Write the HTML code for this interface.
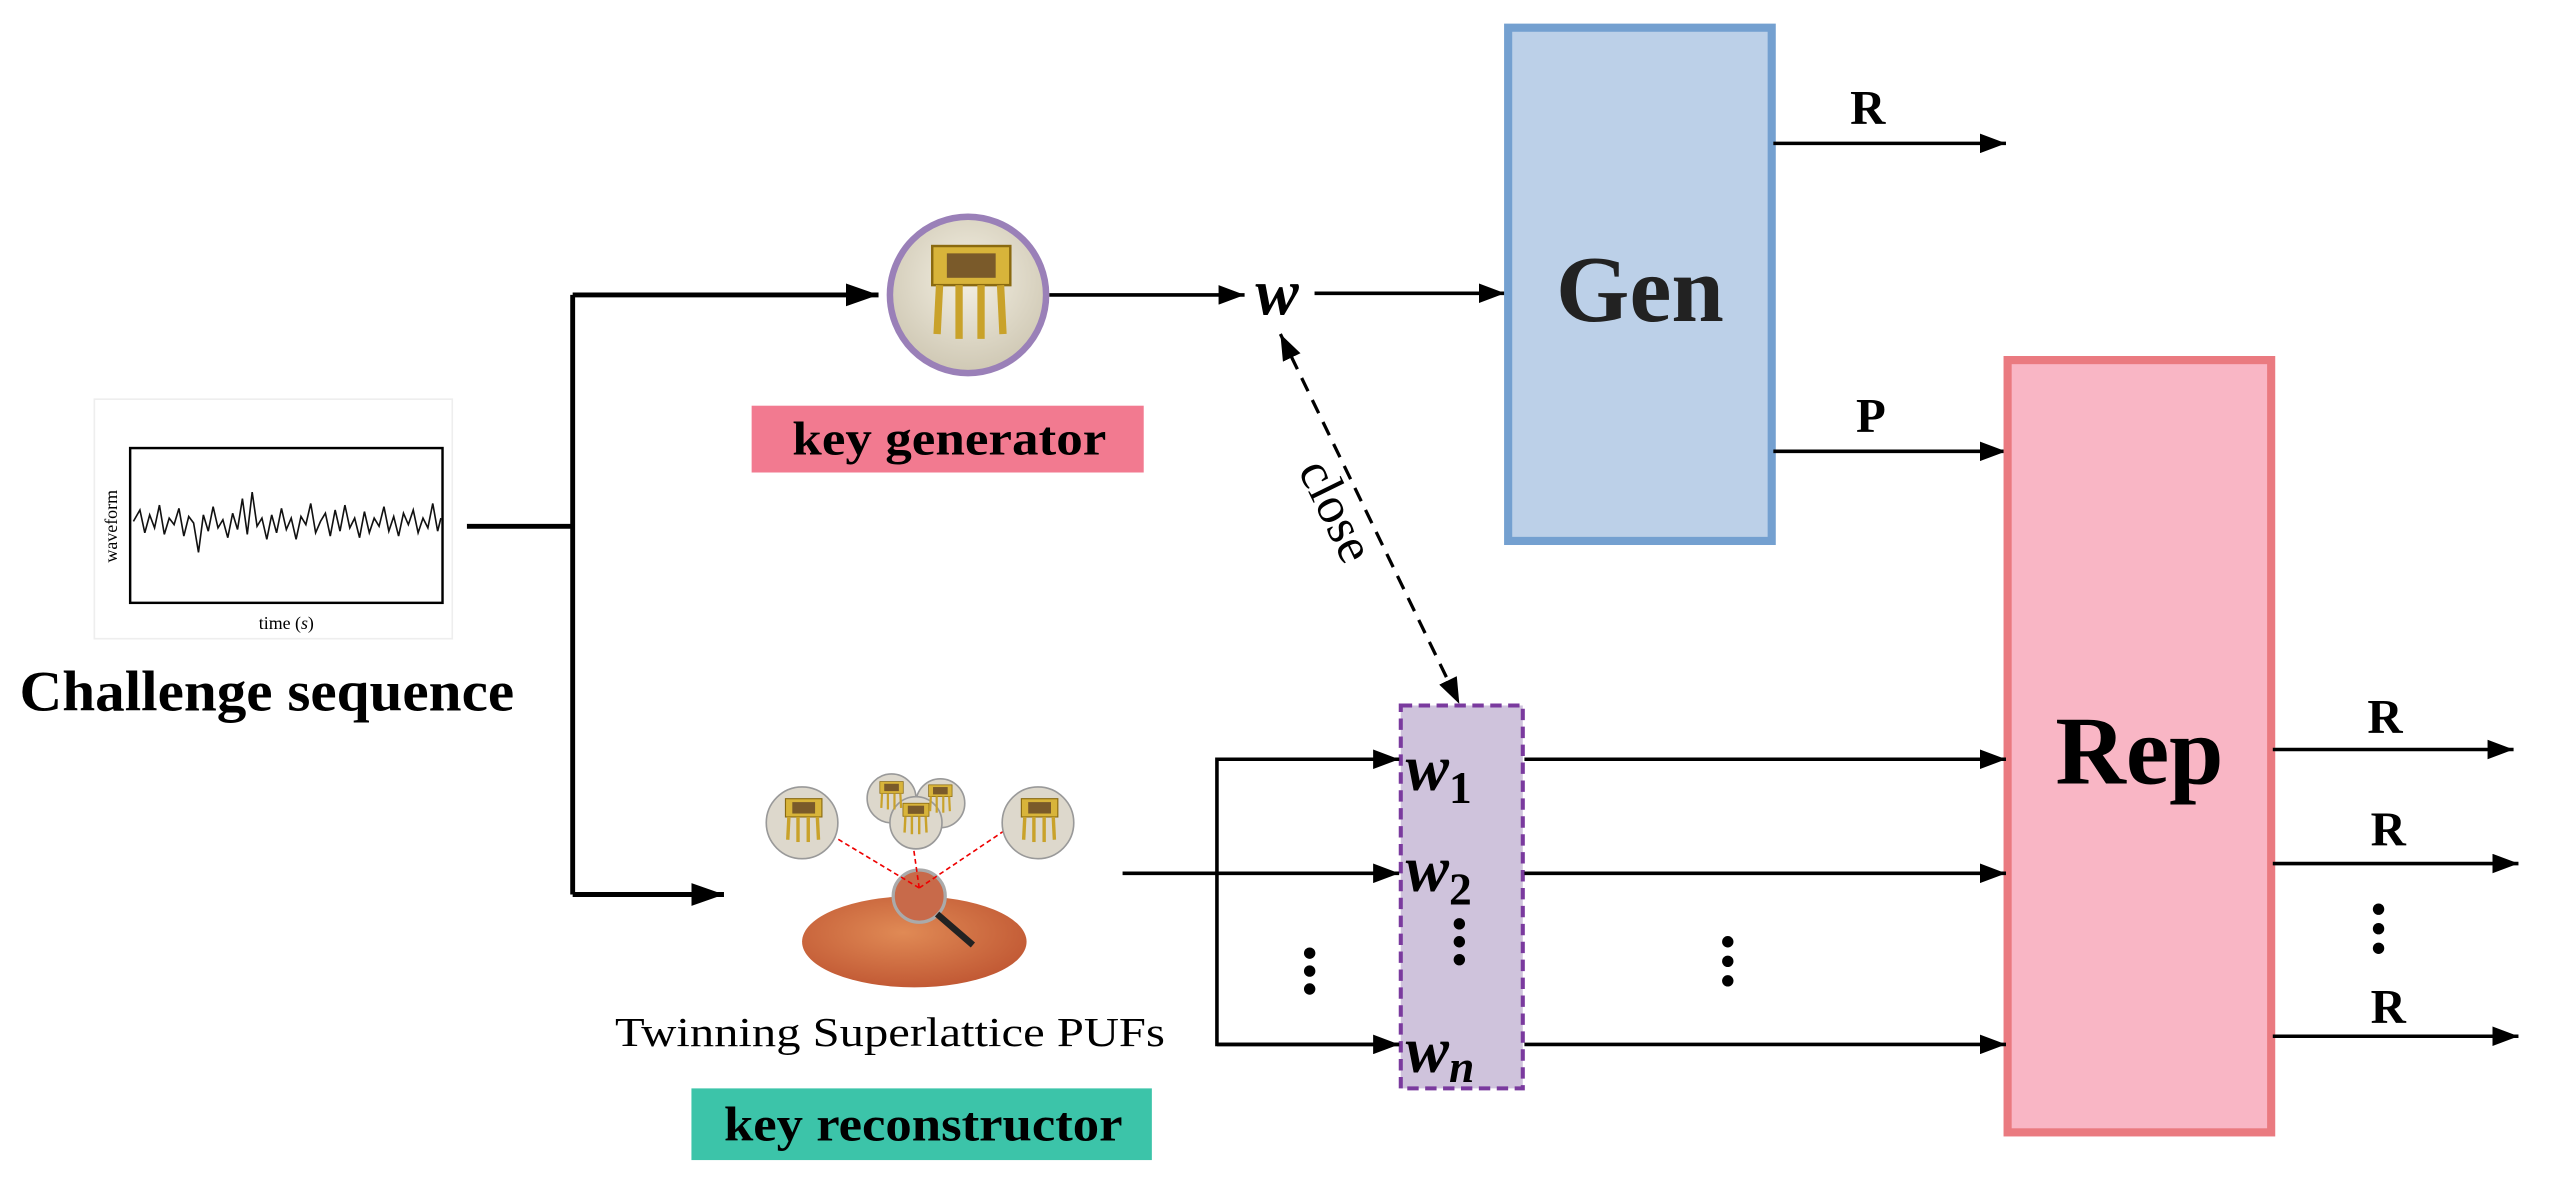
<!DOCTYPE html>
<html><head><meta charset="utf-8"><style>
html,body{margin:0;padding:0;background:#fff;}
svg{display:block;}
text{font-family:"Liberation Serif",serif;}
</style></head><body>
<svg width="2551" height="1178" viewBox="0 0 1568 723" preserveAspectRatio="none" xmlns="http://www.w3.org/2000/svg">
<defs>
<marker id="a2" viewBox="0 0 20 14" markerWidth="20" markerHeight="14" refX="20" refY="7" orient="auto" markerUnits="userSpaceOnUse"><path d="M0,0 L20,7 L0,14 z" fill="#000"/></marker>
<marker id="a3" viewBox="0 0 16 12" markerWidth="16" markerHeight="12" refX="16" refY="6" orient="auto-start-reverse" markerUnits="userSpaceOnUse"><path d="M0,0 L16,6 L0,12 z" fill="#000"/></marker>
<radialGradient id="cg" cx="50%" cy="40%" r="60%"><stop offset="0" stop-color="#f3efe2"/><stop offset="1" stop-color="#cfc8b4"/></radialGradient>
<radialGradient id="wafer" cx="45%" cy="40%" r="60%"><stop offset="0" stop-color="#e08a55"/><stop offset="1" stop-color="#c25a35"/></radialGradient>
<g id="chip">
<rect x="-16" y="-14" width="32" height="16" fill="#d8b43a" stroke="#8a6a10" stroke-width="1"/>
<rect x="-10" y="-11" width="20" height="10" fill="#7a5a2a"/>
<g stroke="#c9a22a" stroke-width="3"><line x1="-13" y1="2" x2="-14" y2="22"/><line x1="-5" y1="2" x2="-5" y2="24"/><line x1="4" y1="2" x2="4" y2="24"/><line x1="12" y1="2" x2="13" y2="22"/></g>
</g>
</defs>

<rect x="58" y="245" width="220" height="147" fill="#fff" stroke="#eee"/>
<rect x="80" y="275" width="192" height="95" fill="#fff" stroke="#000" stroke-width="1.5"/>
<polyline fill="none" stroke="#111" stroke-width="1" points="82,320 86,313 89,327 92,316 95,324 98,310 101,328 104,318 107,322 110,312 113,329 116,317 119,321 122,339 125,316 128,326 131,311 134,324 137,319 140,330 143,315 146,325 149,306 152,328 155,302 158,323 161,318 164,331 167,316 170,327 173,312 176,325 179,318 182,331 185,317 188,322 191,309 194,327 197,320 200,315 203,329 206,313 209,326 212,310 215,324 218,318 221,330 224,314 227,327 230,318 233,323 236,311 239,326 242,317 245,329 248,315 251,322 254,313 257,327 260,318 263,324 266,309 269,326 271,318"/>
<text x="72" y="323" font-size="11" text-anchor="middle" transform="rotate(-90 72 323)">waveform</text>
<text x="176" y="386" font-size="11" text-anchor="middle">time (<tspan font-style="italic">s</tspan>)</text>
<text x="12" y="436" font-size="35" font-weight="bold" textLength="304" lengthAdjust="spacingAndGlyphs">Challenge sequence</text>

<g stroke="#000" stroke-width="3" fill="none">
<polyline points="287,323 352,323"/>
<polyline points="352,181 352,549"/>
<line x1="352" y1="181" x2="540" y2="181" marker-end="url(#a2)"/>
<line x1="352" y1="549" x2="445" y2="549" marker-end="url(#a2)"/>
</g>

<circle cx="595" cy="181" r="48" fill="url(#cg)" stroke="#9a80b8" stroke-width="4"/>
<use href="#chip" transform="translate(597,172) scale(1.5)"/>
<rect x="462" y="249" width="241" height="41" fill="#F27A90"/>
<text x="487" y="279" font-size="29" font-weight="bold" textLength="193" lengthAdjust="spacingAndGlyphs">key generator</text>

<g stroke="#000" stroke-width="2.2" fill="none">
<line x1="645" y1="181" x2="765" y2="181" marker-end="url(#a3)"/>
<line x1="808" y1="180" x2="925" y2="180" marker-end="url(#a3)"/>
</g>
<text x="785" y="193" font-size="40" font-weight="bold" font-style="italic" text-anchor="middle">w</text>

<rect x="927" y="17" width="162" height="315" fill="#BCD0E8" stroke="#74A0D0" stroke-width="5"/>
<text x="1008" y="197" font-size="58" font-weight="bold" text-anchor="middle" fill="#222">Gen</text>
<g stroke="#000" stroke-width="2.2" fill="none">
<line x1="1090" y1="88" x2="1233" y2="88" marker-end="url(#a3)"/>
<line x1="1090" y1="277" x2="1233" y2="277" marker-end="url(#a3)"/>
</g>
<text x="1148" y="76" font-size="30" font-weight="bold" text-anchor="middle">R</text>
<text x="1150" y="265" font-size="30" font-weight="bold" text-anchor="middle">P</text>

<rect x="1234" y="221" width="162" height="474" fill="#F9B6C5" stroke="#EA7A80" stroke-width="5"/>
<text x="1315" y="481" font-size="60" font-weight="bold" text-anchor="middle">Rep</text>

<line x1="787" y1="205" x2="897" y2="432" stroke="#000" stroke-width="2" stroke-dasharray="9,6" marker-start="url(#a3)" marker-end="url(#a3)"/>
<text x="812" y="318" font-size="32" text-anchor="middle" transform="rotate(64 812 318)">close</text>

<rect x="861" y="433" width="75" height="235" fill="#CFC3DC" stroke="#7A3A9E" stroke-width="2.5" stroke-dasharray="7,4"/>
<g font-size="40" font-weight="bold" font-style="italic">
<text x="864" y="485">w<tspan font-size="28" font-style="normal" dy="8">1</tspan></text>
<text x="864" y="547">w<tspan font-size="28" font-style="normal" dy="8">2</tspan></text>
<text x="864" y="658">w<tspan font-size="28" dy="6">n</tspan></text>
</g>
<g fill="#000">
<circle cx="897" cy="567" r="3.5"/><circle cx="897" cy="578" r="3.5"/><circle cx="897" cy="589" r="3.5"/>
<circle cx="805" cy="585" r="3.5"/><circle cx="805" cy="596" r="3.5"/><circle cx="805" cy="607" r="3.5"/>
<circle cx="1062" cy="578" r="3.5"/><circle cx="1062" cy="590" r="3.5"/><circle cx="1062" cy="602" r="3.5"/>
<circle cx="1462" cy="558" r="3.5"/><circle cx="1462" cy="570" r="3.5"/><circle cx="1462" cy="582" r="3.5"/>
</g>

<g stroke="#000" stroke-width="2.2" fill="none">
<polyline points="860,466 748,466 748,641 860,641"/>
<line x1="748" y1="466" x2="860" y2="466" marker-end="url(#a3)"/>
<line x1="748" y1="641" x2="860" y2="641" marker-end="url(#a3)"/>
<line x1="690" y1="536" x2="860" y2="536" marker-end="url(#a3)"/>
<line x1="937" y1="466" x2="1233" y2="466" marker-end="url(#a3)"/>
<line x1="937" y1="536" x2="1233" y2="536" marker-end="url(#a3)"/>
<line x1="937" y1="641" x2="1233" y2="641" marker-end="url(#a3)"/>
<line x1="1397" y1="460" x2="1545" y2="460" marker-end="url(#a3)"/>
<line x1="1397" y1="530" x2="1548" y2="530" marker-end="url(#a3)"/>
<line x1="1397" y1="636" x2="1548" y2="636" marker-end="url(#a3)"/>
</g>
<text x="1466" y="450" font-size="30" font-weight="bold" text-anchor="middle">R</text>
<text x="1468" y="519" font-size="30" font-weight="bold" text-anchor="middle">R</text>
<text x="1468" y="628" font-size="30" font-weight="bold" text-anchor="middle">R</text>

<rect x="462" y="470" width="206" height="140" fill="#fff"/>
<ellipse cx="562" cy="578" rx="69" ry="28" fill="url(#wafer)"/>
<circle cx="565" cy="550" r="16" fill="#c86a4a" stroke="#aaa" stroke-width="2"/>
<line x1="576" y1="561" x2="598" y2="580" stroke="#222" stroke-width="4"/>
<g stroke="#e00" stroke-width="1" stroke-dasharray="3,2">
<line x1="565" y1="545" x2="490" y2="500"/><line x1="565" y1="545" x2="560" y2="510"/><line x1="565" y1="545" x2="632" y2="500"/>
</g>
<g>
<circle cx="548" cy="490" r="15" fill="#ddd8cc" stroke="#999"/><circle cx="578" cy="493" r="15" fill="#ddd8cc" stroke="#999"/>
<circle cx="563" cy="505" r="16" fill="#ddd8cc" stroke="#999"/>
<circle cx="493" cy="505" r="22" fill="#ddd8cc" stroke="#999"/>
<circle cx="638" cy="505" r="22" fill="#ddd8cc" stroke="#999"/>
<use href="#chip" transform="translate(494,500) scale(0.7)"/>
<use href="#chip" transform="translate(639,500) scale(0.7)"/>
<use href="#chip" transform="translate(563,500) scale(0.5)"/>
<use href="#chip" transform="translate(548,486) scale(0.45)"/>
<use href="#chip" transform="translate(578,488) scale(0.45)"/>
</g>
<text x="378" y="642" font-size="25" textLength="338" lengthAdjust="spacingAndGlyphs">Twinning Superlattice PUFs</text>
<rect x="425" y="668" width="283" height="44" fill="#3CC4A9"/>
<text x="445" y="700" font-size="30" font-weight="bold" textLength="245" lengthAdjust="spacingAndGlyphs">key reconstructor</text>
</svg>
</body></html>
